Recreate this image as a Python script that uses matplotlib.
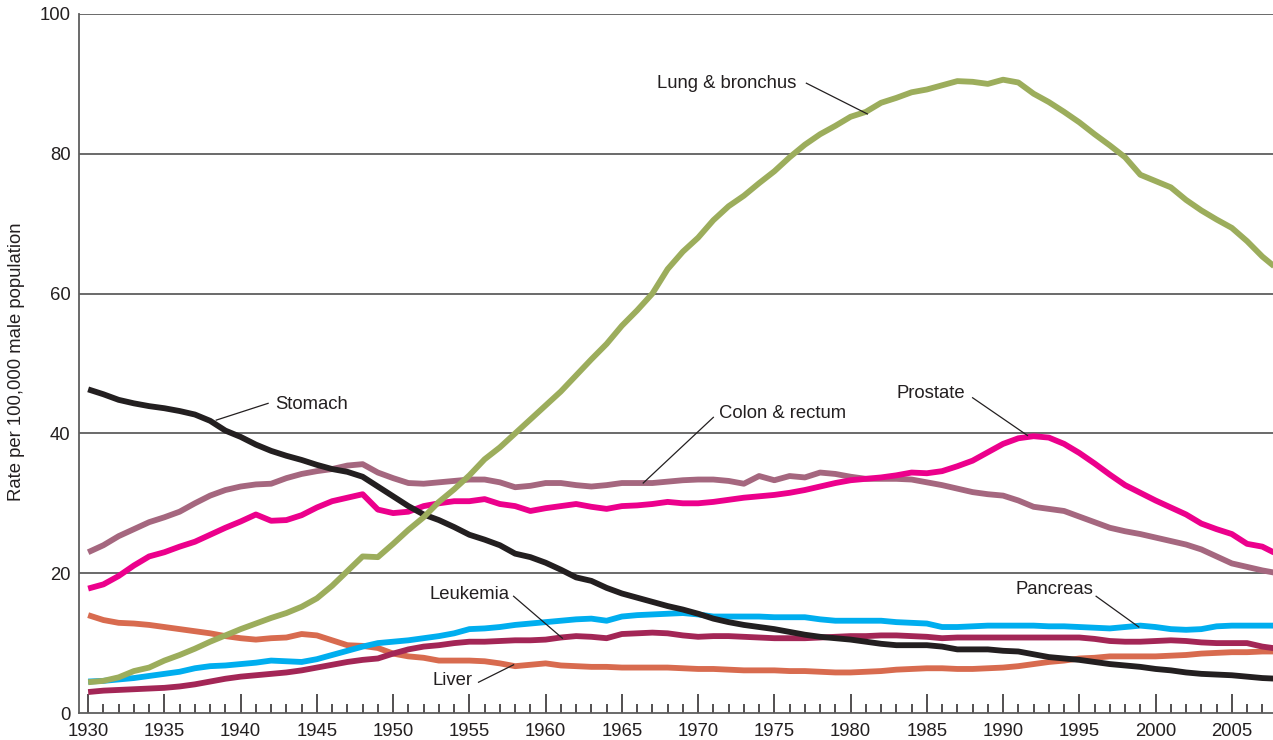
import matplotlib
matplotlib.use("Agg")
import matplotlib.pyplot as plt
from matplotlib.ticker import MultipleLocator
import numpy as np

plt.rcParams['font.family'] = ['Liberation Sans', 'DejaVu Sans']

years = np.arange(1930, 2009)

lung = [4.4, 4.6, 5.1, 6.0, 6.5, 7.5, 8.3, 9.2, 10.2, 11.1,
        12.0, 12.8, 13.6, 14.3, 15.2, 16.4, 18.2, 20.3, 22.4, 22.3,
        24.2, 26.2, 28.0, 30.2, 32.0, 34.0, 36.3, 38.0, 40.0, 42.0,
        44.0, 46.0, 48.3, 50.6, 52.8, 55.4, 57.6, 60.0, 63.5, 66.0,
        68.0, 70.5, 72.5, 74.0, 75.8, 77.5, 79.5, 81.3, 82.8, 84.0,
        85.3, 86.0, 87.3, 88.0, 88.8, 89.2, 89.8, 90.4, 90.3, 90.0,
        90.6, 90.2, 88.6, 87.4, 86.0, 84.5, 82.8, 81.2, 79.5, 77.0,
        76.1, 75.2, 73.4, 71.9, 70.6, 69.4, 67.5, 65.3, 63.5]

stomach = [46.3, 45.6, 44.8, 44.3, 43.9, 43.6, 43.2, 42.7, 41.8, 40.4,
           39.5, 38.4, 37.5, 36.8, 36.2, 35.5, 34.9, 34.5, 33.8, 32.4,
           31.0, 29.6, 28.4, 27.6, 26.6, 25.5, 24.8, 24.0, 22.8, 22.3,
           21.5, 20.5, 19.4, 18.9, 17.9, 17.1, 16.5, 15.9, 15.3, 14.8,
           14.2, 13.5, 13.0, 12.6, 12.3, 12.0, 11.6, 11.2, 10.9, 10.7,
           10.5, 10.2, 9.9, 9.7, 9.7, 9.7, 9.5, 9.1, 9.1, 9.1,
           8.9, 8.8, 8.4, 8.0, 7.8, 7.6, 7.3, 7.0, 6.8, 6.6,
           6.3, 6.1, 5.8, 5.6, 5.5, 5.4, 5.2, 5.0, 4.9]

colon = [23.0, 24.0, 25.3, 26.3, 27.3, 28.0, 28.8, 30.0, 31.1, 31.9,
         32.4, 32.7, 32.8, 33.6, 34.2, 34.6, 34.9, 35.4, 35.6, 34.4,
         33.6, 32.9, 32.8, 33.0, 33.2, 33.4, 33.4, 33.0, 32.3, 32.5,
         32.9, 32.9, 32.6, 32.4, 32.6, 32.9, 32.9, 32.9, 33.1, 33.3,
         33.4, 33.4, 33.2, 32.8, 33.9, 33.3, 33.9, 33.7, 34.4, 34.2,
         33.8, 33.5, 33.5, 33.5, 33.4, 33.0, 32.6, 32.1, 31.6, 31.3,
         31.1, 30.4, 29.5, 29.2, 28.9, 28.1, 27.3, 26.5, 26.0, 25.6,
         25.1, 24.6, 24.1, 23.4, 22.4, 21.4, 20.9, 20.4, 20.0]

prostate = [17.8, 18.4, 19.6, 21.1, 22.4, 23.0, 23.8, 24.5, 25.5, 26.5,
            27.4, 28.4, 27.5, 27.6, 28.3, 29.4, 30.3, 30.8, 31.3, 29.1,
            28.6, 28.8, 29.6, 30.0, 30.3, 30.3, 30.6, 29.9, 29.6, 28.9,
            29.3, 29.6, 29.9, 29.5, 29.2, 29.6, 29.7, 29.9, 30.2, 30.0,
            30.0, 30.2, 30.5, 30.8, 31.0, 31.2, 31.5, 31.9, 32.4, 32.9,
            33.3, 33.5, 33.7, 34.0, 34.4, 34.3, 34.6, 35.3, 36.1, 37.3,
            38.5, 39.3, 39.6, 39.4, 38.5, 37.2, 35.7, 34.1, 32.6, 31.5,
            30.4, 29.4, 28.4, 27.1, 26.3, 25.6, 24.2, 23.8, 22.7]

pancreas = [4.5, 4.6, 4.8, 5.0, 5.3, 5.6, 5.9, 6.4, 6.7, 6.8,
            7.0, 7.2, 7.5, 7.4, 7.3, 7.7, 8.3, 8.9, 9.5, 10.0,
            10.2, 10.4, 10.7, 11.0, 11.4, 12.0, 12.1, 12.3, 12.6, 12.8,
            13.0, 13.2, 13.4, 13.5, 13.2, 13.8, 14.0, 14.1, 14.2, 14.3,
            14.1, 13.8, 13.8, 13.8, 13.8, 13.7, 13.7, 13.7, 13.4, 13.2,
            13.2, 13.2, 13.2, 13.0, 12.9, 12.8, 12.3, 12.3, 12.4, 12.5,
            12.5, 12.5, 12.5, 12.4, 12.4, 12.3, 12.2, 12.1, 12.3, 12.5,
            12.3, 12.0, 11.9, 12.0, 12.4, 12.5, 12.5, 12.5, 12.5]

leukemia = [3.0, 3.2, 3.3, 3.4, 3.5, 3.6, 3.8, 4.1, 4.5, 4.9,
            5.2, 5.4, 5.6, 5.8, 6.1, 6.5, 6.9, 7.3, 7.6, 7.8,
            8.5, 9.1, 9.5, 9.7, 10.0, 10.2, 10.2, 10.3, 10.4, 10.4,
            10.5, 10.8, 11.0, 10.9, 10.7, 11.3, 11.4, 11.5, 11.4, 11.1,
            10.9, 11.0, 11.0, 10.9, 10.8, 10.7, 10.7, 10.7, 10.8, 10.9,
            11.0, 11.0, 11.1, 11.1, 11.0, 10.9, 10.7, 10.8, 10.8, 10.8,
            10.8, 10.8, 10.8, 10.8, 10.8, 10.8, 10.6, 10.3, 10.2, 10.2,
            10.3, 10.4, 10.3, 10.1, 10.0, 10.0, 10.0, 9.5, 9.2]

liver = [14.0, 13.3, 12.9, 12.8, 12.6, 12.3, 12.0, 11.7, 11.4, 11.0,
         10.7, 10.5, 10.7, 10.8, 11.3, 11.1, 10.4, 9.7, 9.6, 9.3,
         8.5, 8.1, 7.9, 7.5, 7.5, 7.5, 7.4, 7.1, 6.7, 6.9,
         7.1, 6.8, 6.7, 6.6, 6.6, 6.5, 6.5, 6.5, 6.5, 6.4,
         6.3, 6.3, 6.2, 6.1, 6.1, 6.1, 6.0, 6.0, 5.9, 5.8,
         5.8, 5.9, 6.0, 6.2, 6.3, 6.4, 6.4, 6.3, 6.3, 6.4,
         6.5, 6.7, 7.0, 7.3, 7.5, 7.8, 7.9, 8.1, 8.1, 8.1,
         8.1, 8.2, 8.3, 8.5, 8.6, 8.7, 8.7, 8.8, 8.8]

# drawing order: back to front
series = [
    (colon, '#a5677f'),
    (prostate, '#ec008c'),
    (liver, '#d86b4f'),
    (pancreas, '#00aeef'),
    (leukemia, '#a32656'),
    (stomach, '#231f20'),
    (lung, '#9cad5c'),
]

# label, text position, leader line start, leader line end
labels = [
    ('Lung & bronchus', (1967.3, 90.1), (1977.1, 90.1), (1981.1, 85.7)),
    ('Stomach', (1942.3, 44.1), (1941.8, 44.3), (1938.4, 41.9)),
    ('Colon & rectum', (1971.4, 42.9), (1971.0, 42.3), (1966.4, 32.9)),
    ('Prostate', (1983.0, 45.7), (1988.0, 45.1), (1991.6, 39.7)),
    ('Pancreas', (1990.8, 17.6), (1996.1, 16.7), (1998.9, 12.3)),
    ('Leukemia', (1952.4, 16.9), (1957.9, 16.7), (1961.1, 10.7)),
    ('Liver', (1952.6, 4.7), (1955.6, 4.4), (1957.9, 6.9)),
]

fig = plt.figure(figsize=(12.73, 7.40), dpi=100)
ax = fig.add_axes([79/1273, 27/740, 1 - 79/1273, (713-14)/740])

for vals, col in series:
    ax.plot(years, vals, color=col, linewidth=4.2, solid_capstyle='butt',
            solid_joinstyle='round', zorder=3)

for txt, tpos, p0, p1 in labels:
    ax.text(tpos[0], tpos[1], txt, fontsize=13.3, color='#231f20',
            ha='left', va='center', zorder=5)
    ax.plot([p0[0], p1[0]], [p0[1], p1[1]], color='#231f20', linewidth=0.9, zorder=4)

ax.set_xlim(1929.4, 2007.7)
ax.set_ylim(0, 100)

ax.set_yticks([0, 20, 40, 60, 80, 100])
for yv in [20, 40, 60, 80, 100]:
    ax.axhline(yv, color='#5e5e5e', linewidth=1.3, zorder=1)
ax.tick_params(axis='y', length=0, labelsize=13.3, pad=6, labelcolor='#231f20')

ax.xaxis.set_major_locator(MultipleLocator(5))
ax.xaxis.set_minor_locator(MultipleLocator(1))
ax.set_xticks(np.arange(1930, 2006, 5))
ax.tick_params(axis='x', which='major', direction='in', length=14, width=1.1,
               color='#231f20', labelsize=13.3, pad=7, labelcolor='#231f20')
ax.tick_params(axis='x', which='minor', direction='in', length=6.5, width=1.1,
               color='#231f20')

for s in ['top', 'right']:
    ax.spines[s].set_visible(False)
for s in ['left', 'bottom']:
    ax.spines[s].set_color('#5e5e5e')
    ax.spines[s].set_linewidth(1.3)

fig.text(17/1273, (740-362)/740, 'Rate per 100,000 male population', rotation=90,
         ha='center', va='center', fontsize=13.3, color='#231f20')

fig.savefig('out.png', dpi=100)
